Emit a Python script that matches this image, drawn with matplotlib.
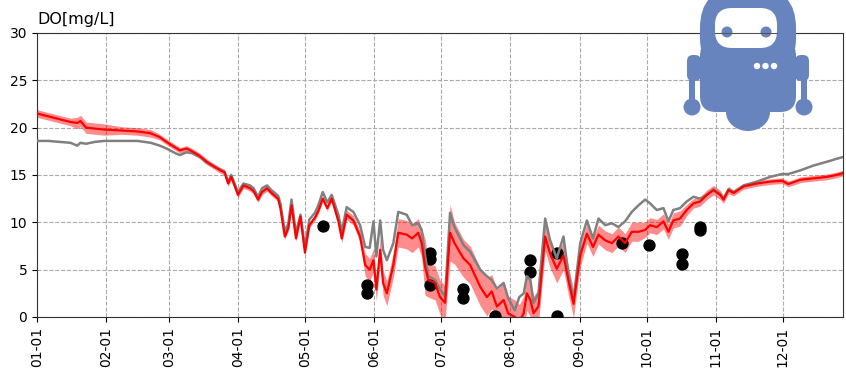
import matplotlib
matplotlib.use("Agg")
import matplotlib.pyplot as plt
from matplotlib.patches import Ellipse, FancyBboxPatch, Circle, Rectangle
import numpy as np

# ---------------- data ----------------
days = [0, 5, 10, 15, 18, 19.5, 22, 26, 30, 38, 45, 51, 55, 58, 62, 64, 67, 69.5, 73, 76,
        80, 82, 84, 85.6, 87, 90, 92.5, 95.4, 97, 99, 100.8, 103, 105, 108, 109, 111, 112.6,
        114, 116, 118, 120, 122, 124.5, 126, 128, 130, 132, 135, 136.5, 138.7, 141.7, 144.7,
        147, 149, 150.7, 152, 153.7, 155, 156.7, 159.6, 161.8, 165.6, 168, 170.8, 172.3,
        173.8, 175.3, 178.3, 180.5, 182.8, 185, 187, 191, 194, 198.5, 201.5, 203.7, 206, 209,
        211, 214, 216, 218, 219.4, 221, 222.4, 224.6, 227.6, 229.8, 232.8, 235.8, 238, 240.3,
        243.3, 246.3, 249, 251.5, 254.5, 257.5, 260.4, 263.4, 266.4, 269.4, 272.4, 274.6,
        277.6, 280.6, 282.8, 285, 288, 291, 294, 297, 300, 303, 306, 307.5, 309.7, 312,
        316.5, 322.4, 328.4, 333.6, 336.5, 342, 347.8, 353.8, 358, 361]

red_mean = [21.5, 21.2, 20.9, 20.6, 20.5, 20.7, 20.0, 19.9, 19.8, 19.7, 19.6, 19.4, 19.0, 18.5,
            17.9, 17.6, 17.8, 17.5, 17.0, 16.4, 15.8, 15.5, 15.3, 14.1, 14.8, 12.9, 13.9, 13.6,
            13.3, 12.4, 13.2, 13.6, 13.1, 12.5, 11.5, 8.5, 9.4, 11.8, 8.3, 10.6, 6.8, 9.7, 10.5,
            11.2, 12.5, 11.5, 12.5, 10.1, 8.3, 10.8, 10.2, 8.5, 5.5, 5.0, 6.0, 2.9, 7.1, 3.6,
            2.5, 5.5, 8.9, 8.7, 8.3, 8.9, 7.8, 5.3, 3.9, 3.6, 2.1, 1.5, 8.9, 7.8, 6.2, 5.5, 3.2,
            2.1, 2.7, 1.1, 1.8, 0.4, 0.0, -0.5, 0.4, 2.5, 1.8, 0.4, 1.1, 8.5, 6.7, 5.1, 6.5, 3.9,
            1.4, 6.5, 8.8, 7.4, 8.7, 8.1, 7.8, 8.5, 7.8, 9.0, 9.0, 9.2, 9.7, 9.5, 10.1, 9.0,
            10.2, 10.4, 11.3, 12.0, 12.2, 12.9, 13.4, 12.9, 12.4, 13.4, 13.1, 13.8, 14.1, 14.3,
            14.4, 14.05, 14.5, 14.65, 14.8, 15.0, 15.2]

grey_model = [18.6, 18.6, 18.5, 18.4, 18.1, 18.4, 18.3, 18.5, 18.6, 18.6, 18.6, 18.4, 18.1,
              17.8, 17.3, 17.1, 17.4, 17.3, 16.9, 16.3, 15.8, 15.6, 15.3, 14.3, 15.0, 13.2,
              14.1, 13.9, 13.6, 12.7, 13.6, 13.9, 13.4, 12.8, 12.0, 9.0, 9.9, 12.4, 8.8, 10.8,
              7.4, 10.3, 11.0, 11.8, 13.2, 12.1, 12.9, 10.8, 9.0, 11.6, 11.1, 9.7, 7.4, 7.3,
              10.1, 6.4, 10.2, 7.1, 6.0, 7.8, 11.1, 10.8, 9.7, 9.9, 9.2, 6.5, 4.3, 3.9, 2.9,
              2.2, 11.0, 9.5, 7.6, 6.9, 5.0, 4.3, 3.9, 3.0, 3.6, 2.0, 0.7, 2.1, 2.5, 4.3, 3.9,
              1.5, 2.5, 10.4, 8.1, 6.2, 8.5, 4.6, 1.8, 7.8, 10.2, 8.3, 10.4, 9.7, 9.9, 9.5,
              10.1, 11.1, 11.8, 12.4, 12.0, 11.3, 11.5, 10.1, 11.3, 11.5, 12.2, 12.7, 12.5,
              12.9, 13.5, 13.0, 12.5, 13.5, 13.2, 13.9, 14.3, 14.8, 15.1, 15.1, 15.5, 16.0,
              16.4, 16.7, 16.9]

red_spread = [0.4, 0.4, 0.4, 0.4, 0.6, 0.6, 0.6, 0.6, 0.6, 0.4, 0.4, 0.4, 0.3, 0.3, 0.3, 0.3,
              0.3, 0.3, 0.3, 0.3, 0.3, 0.3, 0.3, 0.3, 0.3, 0.3, 0.3, 0.3, 0.3, 0.3, 0.3, 0.3,
              0.3, 0.3, 0.3, 0.3, 0.3, 0.3, 0.3, 0.3, 0.3, 0.3, 0.3, 0.3, 0.3, 0.3, 0.3, 0.3,
              0.5, 0.5, 0.5, 0.6, 1.2, 1.2, 1.2, 1.2, 1.3, 1.3, 1.3, 1.3, 1.5, 1.5, 1.5, 1.5,
              1.5, 3.0, 1.8, 1.8, 1.8, 1.8, 3.0, 2.2, 2.0, 2.0, 2.0, 2.0, 1.8, 1.8, 1.8, 1.8,
              1.8, 1.8, 1.8, 1.8, 1.8, 1.8, 1.8, 1.5, 1.5, 1.5, 1.5, 1.5, 1.5, 1.2, 1.0, 1.0,
              1.0, 1.0, 1.0, 1.0, 1.0, 1.0, 1.0, 0.8, 0.8, 0.8, 0.8, 0.8, 0.8, 0.8, 0.6, 0.5,
              0.5, 0.5, 0.5, 0.5, 0.4, 0.4, 0.3, 0.3, 0.3, 0.3, 0.3, 0.3, 0.3, 0.3, 0.3, 0.3,
              0.3]

obs_days = [128, 148, 148, 176, 176, 176, 191, 191, 205, 221, 221, 233, 233, 262, 274,
            289, 289, 297, 297]
obs_vals = [9.6, 3.4, 2.5, 6.8, 6.1, 3.4, 3.0, 2.0, 0.15, 6.0, 4.8, 6.8, 0.15, 7.8, 7.6,
            6.7, 5.6, 9.5, 9.2]

month_days = [0, 31, 59, 90, 120, 151, 181, 212, 243, 273, 304, 334]
month_labels = ["01-01", "02-01", "03-01", "04-01", "05-01", "06-01", "07-01", "08-01",
                "09-01", "10-01", "11-01", "12-01"]
y_ticks = [0, 5, 10, 15, 20, 25, 30]

# ---------------- figure ----------------
W, H = 846, 371
fig = plt.figure(figsize=(W / 100, H / 100), dpi=100)
ax = fig.add_axes([37 / W, 1 - 317 / H, (843 - 37) / W, (317 - 33) / H])

d = np.array(days)
m = np.array(red_mean)
s = np.array(red_spread)
ax.fill_between(d, m - s, m + s, color="red", alpha=0.45, linewidth=0, zorder=2)
ax.scatter(obs_days, obs_vals, s=62, color="black", zorder=3)
ax.plot(d, grey_model, color="grey", linewidth=1.8, zorder=4)
ax.plot(d, m, color="red", linewidth=1.6, zorder=5)

ax.set_xlim(0, 361)
ax.set_ylim(0, 30)
ax.set_xticks(month_days)
ax.set_xticklabels(month_labels, rotation=90)
ax.set_yticks(y_ticks)
ax.tick_params(labelsize=10)
ax.grid(True, linestyle="--", color="#aaaaaa", linewidth=0.8)
for sp in ax.spines.values():
    sp.set_color("#333333")

fig.text(37 / W, 1 - 24 / H, "DO[mg/L]", fontsize=11.5, ha="left", va="baseline")

# ---------------- robot logo ----------------
ov = fig.add_axes([0, 0, 1, 1], zorder=10)
ov.set_xlim(0, W)
ov.set_ylim(H, 0)
ov.axis("off")
ov.patch.set_alpha(0)
rc = "#6784be"
# arms
for cx, sx in ((692, 687), (804, 795)):
    ov.add_patch(FancyBboxPatch((sx, 55), 14, 26, boxstyle="round,pad=0,rounding_size=6",
                                color=rc, linewidth=0))
    ov.add_patch(Rectangle((cx - 3, 72), 6, 30, color=rc, linewidth=0))
    ov.add_patch(Circle((cx, 107), 8.5, color=rc, linewidth=0))
# chin
ov.add_patch(Ellipse((748, 112), 44, 38, color=rc, linewidth=0))
# head + body
ov.add_patch(FancyBboxPatch((700, -12), 96, 90, boxstyle="round,pad=0,rounding_size=40",
                            color=rc, linewidth=0))
ov.add_patch(FancyBboxPatch((700, 40), 96, 72, boxstyle="round,pad=0,rounding_size=16",
                            color=rc, linewidth=0))
# visor
ov.add_patch(FancyBboxPatch((715, 8), 62, 40, boxstyle="round,pad=0,rounding_size=17",
                            color="white", linewidth=0))
ov.plot([715, 777], [33, 33], color="#555555", linewidth=0.8)
for ex in (727, 766):
    ov.add_patch(Circle((ex, 32), 5.5, color=rc, linewidth=0))
for dx in (757, 765.5, 774):
    ov.add_patch(Circle((dx, 66), 3.2, color="white", linewidth=0))

fig.savefig("out.png", dpi=100)
